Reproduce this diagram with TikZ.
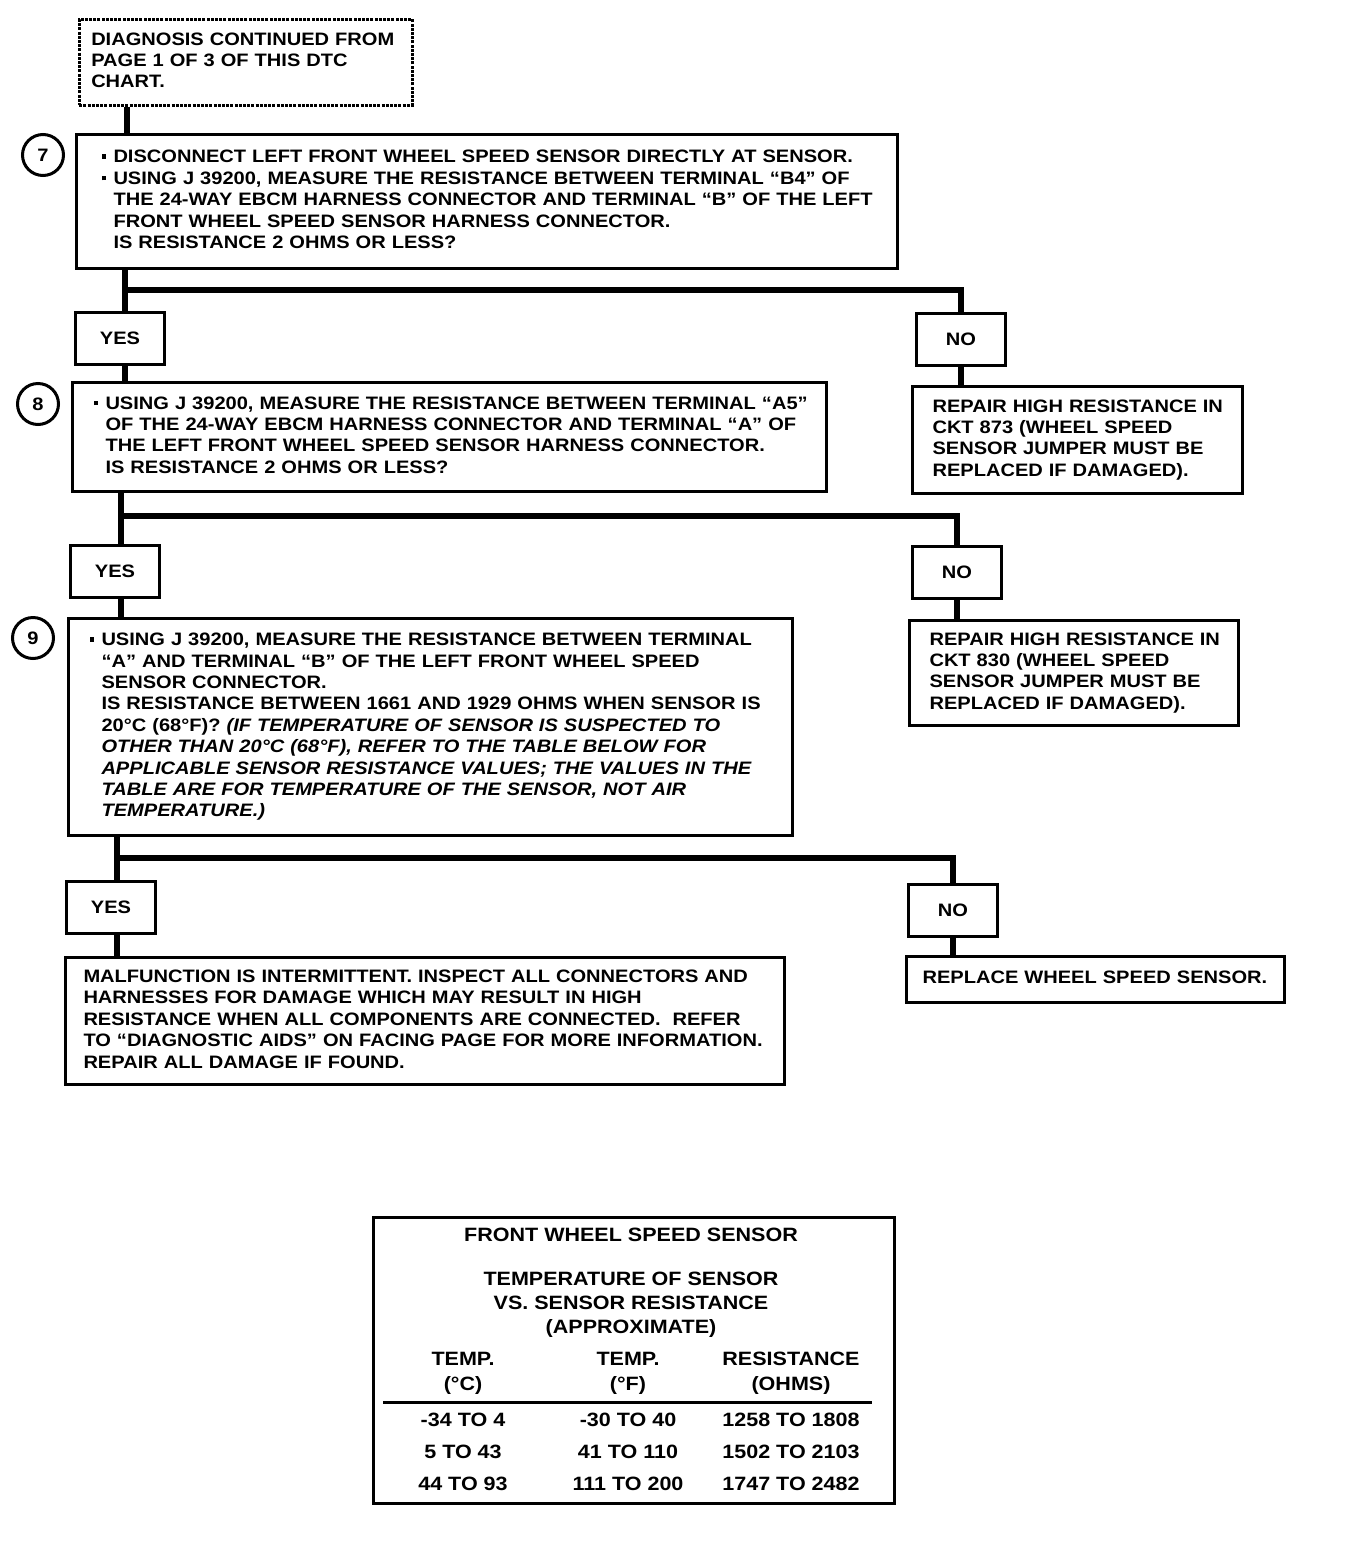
\documentclass[tikz,border=0pt]{standalone}
\usepackage{fontspec}
\setmainfont{Liberation Sans}[FakeStretch=1.115]
\newcommand\bul{\makebox[12pt][l]{\rule[4pt]{4.5pt}{4.5pt}}}
\newcommand\ind{\hspace*{12pt}}
\newcommand\tb[1]{\begin{tabular}{@{}l@{}}#1\end{tabular}}
\begin{document}
\begin{tikzpicture}[x=1pt,y=-1pt,
  txt/.style={font=\bfseries\fontsize{18}{21.4}\selectfont},
  bx/.style={draw, line width=3pt, anchor=north west, inner ysep=0pt, align=left, txt},
  yn/.style={draw, line width=3pt, anchor=north west, minimum width=89, minimum height=52, inner sep=0pt, txt},
  conn/.style={line width=6pt},
  num/.style={draw, circle, line width=3pt, minimum size=41, inner sep=0pt, txt},
  tt/.style={font=\bfseries\fontsize{19.3}{24}\selectfont, align=center, inner sep=0pt}]
\useasboundingbox (0,0) rectangle (1344,1542);
\fill[white] (0,0) rectangle (1344,1542);

% start box
\node[bx, dash pattern=on 3pt off 1.2pt, line width=2.5pt, minimum width=333, minimum height=86, inner xsep=12, text width=309] (start) at (78,18)
{\tb{DIAGNOSIS CONTINUED FROM\\PAGE 1 OF 3 OF THIS DTC\\CHART.}};

% step 7
\node[num] (n7) at (43,155) {7};
\node[bx, minimum width=821, minimum height=134, inner xsep=25, text width=771] (b7) at (75,133)
{\tb{\bul DISCONNECT LEFT FRONT WHEEL SPEED SENSOR DIRECTLY AT SENSOR.\\
\bul USING J 39200, MEASURE THE RESISTANCE BETWEEN TERMINAL ``B4'' OF\\
\ind THE 24-WAY EBCM HARNESS CONNECTOR AND TERMINAL ``B'' OF THE LEFT\\
\ind FRONT WHEEL SPEED SENSOR HARNESS CONNECTOR.\\
\ind IS RESISTANCE 2 OHMS OR LESS?}};

\node[yn] (yes1) at (74,311) {YES};
\node[yn] (no1) at (915,312) {NO};

% step 8
\node[num] (n8) at (38,404) {8};
\node[bx, minimum width=754, minimum height=109, inner xsep=21, text width=712] (b8) at (71,381)
{\tb{\bul USING J 39200, MEASURE THE RESISTANCE BETWEEN TERMINAL ``A5''\\
\ind OF THE 24-WAY EBCM HARNESS CONNECTOR AND TERMINAL ``A'' OF\\
\ind THE LEFT FRONT WHEEL SPEED SENSOR HARNESS CONNECTOR.\\
\ind IS RESISTANCE 2 OHMS OR LESS?}};

\node[bx, minimum width=330, minimum height=107, inner xsep=20, text width=290] (r1) at (911,385)
{\tb{REPAIR HIGH RESISTANCE IN\\CKT 873 (WHEEL SPEED\\SENSOR JUMPER MUST BE\\REPLACED IF DAMAGED).}};

\node[yn] (yes2) at (69,544) {YES};
\node[yn] (no2) at (911,545) {NO};

% step 9
\node[num] (n9) at (33,638) {9};
\node[bx, minimum width=724, minimum height=217, inner xsep=21, text width=682] (b9) at (67,617)
{\tb{\bul USING J 39200, MEASURE THE RESISTANCE BETWEEN TERMINAL\\
\ind ``A'' AND TERMINAL ``B'' OF THE LEFT FRONT WHEEL SPEED\\
\ind SENSOR CONNECTOR.\\
\ind IS RESISTANCE BETWEEN 1661 AND 1929 OHMS WHEN SENSOR IS\\
\ind 20°C (68°F)? \textit{(IF TEMPERATURE OF SENSOR IS SUSPECTED TO}\\
\ind \textit{OTHER THAN 20°C (68°F), REFER TO THE TABLE BELOW FOR}\\
\ind \textit{APPLICABLE SENSOR RESISTANCE VALUES; THE VALUES IN THE}\\
\ind \textit{TABLE ARE FOR TEMPERATURE OF THE SENSOR, NOT AIR}\\
\ind \textit{TEMPERATURE.)}}};

\node[bx, minimum width=329, minimum height=105, inner xsep=20, text width=289] (r2) at (908,619)
{\tb{REPAIR HIGH RESISTANCE IN\\CKT 830 (WHEEL SPEED\\SENSOR JUMPER MUST BE\\REPLACED IF DAMAGED).}};

\node[yn] (yes3) at (65,880) {YES};
\node[yn] (no3) at (907,883) {NO};

\node[bx, minimum width=719, minimum height=127, inner xsep=18, text width=683] (fin) at (64,956)
{\tb{MALFUNCTION IS INTERMITTENT. INSPECT ALL CONNECTORS AND\\
HARNESSES FOR DAMAGE WHICH MAY RESULT IN HIGH\\
RESISTANCE WHEN ALL COMPONENTS ARE CONNECTED.\ \ REFER\\
TO ``DIAGNOSTIC AIDS'' ON FACING PAGE FOR MORE INFORMATION.\\
REPAIR ALL DAMAGE IF FOUND.}};

\node[bx, minimum width=378, minimum height=46, inner xsep=16, text width=346] (rep) at (905,955)
{\tb{REPLACE WHEEL SPEED SENSOR.}};

% connectors
\coordinate (j1) at (125,290);
\coordinate (j2) at (121,516);
\coordinate (j3) at (117,858);
\draw[conn] (start.south -| 127,0) -- (b7.north -| 127,0);
\draw[conn] (b7.south -| j1) -- (yes1.north -| j1);
\draw[conn] (j1) -| (no1.north);
\draw[conn] (yes1.south -| j1) -- (b8.north -| j1);
\draw[conn] (no1.south) -- (r1.north -| no1.south);
\draw[conn] (b8.south -| j2) -- (yes2.north -| j2);
\draw[conn] (j2) -| (no2.north);
\draw[conn] (yes2.south -| j2) -- (b9.north -| j2);
\draw[conn] (no2.south) -- (r2.north -| no2.south);
\draw[conn] (b9.south -| j3) -- (yes3.north -| j3);
\draw[conn] (j3) -| (no3.north);
\draw[conn] (yes3.south -| j3) -- (fin.north -| j3);
\draw[conn] (no3.south) -- (rep.north -| no3.south);

% table
\node[draw, line width=3pt, anchor=north west, minimum width=521, minimum height=286, inner sep=0pt] (tab) at (372,1216) {};
\node[tt] (t1) at (631,1235) {FRONT WHEEL SPEED SENSOR};
\node[tt, anchor=north] (t2) at (631,1272) {TEMPERATURE OF SENSOR\\VS. SENSOR RESISTANCE\\(APPROXIMATE)};
\node[tt, font=\bfseries\fontsize{19.3}{25}\selectfont] (h1) at (463,1373) {TEMP.\\(°C)};
\node[tt, font=\bfseries\fontsize{19.3}{25}\selectfont] (h2) at (628,1373) {TEMP.\\(°F)};
\node[tt, font=\bfseries\fontsize{19.3}{25}\selectfont] (h3) at (791,1373) {RESISTANCE\\(OHMS)};
\coordinate (rl) at (383,1402);
\coordinate (rr) at (872,1402);
\draw[line width=3pt] (rl) -- (rr);
\node[tt] (c11) at (463,1420) {-34 TO 4};
\node[tt] (c12) at (628,1420) {-30 TO 40};
\node[tt] (c13) at (791,1420) {1258 TO 1808};
\node[tt] (c21) at (463,1452) {5 TO 43};
\node[tt] (c22) at (628,1452) {41 TO 110};
\node[tt] (c23) at (791,1452) {1502 TO 2103};
\node[tt] (c31) at (463,1484) {44 TO 93};
\node[tt] (c32) at (628,1484) {111 TO 200};
\node[tt] (c33) at (791,1484) {1747 TO 2482};
\end{tikzpicture}
\end{document}
